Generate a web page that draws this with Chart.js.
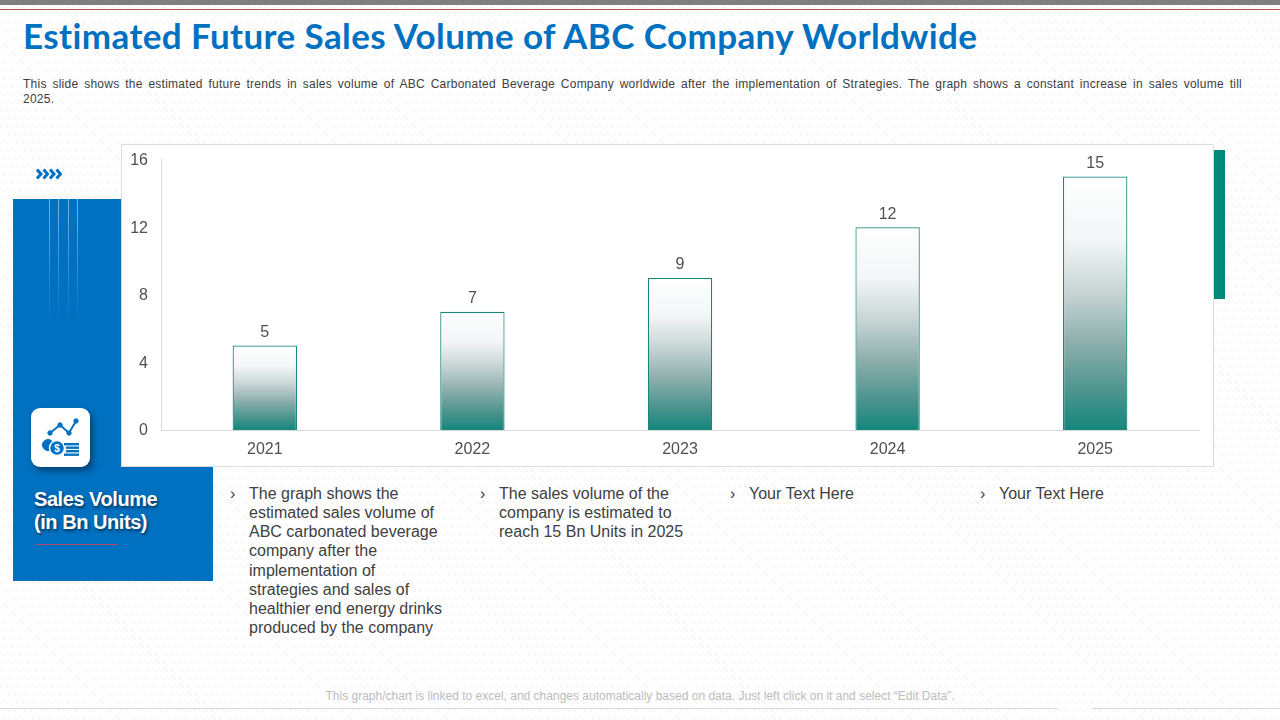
<!DOCTYPE html>
<html>
<head>
<meta charset="utf-8">
<script src="https://cdn.jsdelivr.net/npm/chart.js@4"></script>
<style>
    html, body { margin: 0; padding: 0; }
    body {
        width: 1280px; height: 720px; position: relative; overflow: hidden;
        font-family: "Liberation Sans", Arial, sans-serif; color: #404040;
        background-color: #fff;
        background-image:
            repeating-linear-gradient(180deg, #fff 0 4px, rgba(255,255,255,0) 4px 8px),
            repeating-linear-gradient(45deg, #f4f4f4 0 1px, #fff 1px 4px);
    }
    .abs { position: absolute; }
    #title { left: 23px; top: 14px; font: bold 35px Lato, sans-serif; letter-spacing: 0.4px; font-variant-ligatures: none; color: #0070c0; white-space: nowrap; }
    #desc { left: 23px; top: 77px; width: 1219px; font-size: 12px; line-height: 15px; letter-spacing: 0.25px; }
    #desc div:first-child { text-align: justify; text-align-last: justify; }
    #panel { left: 13px; top: 199px; width: 200px; height: 382px; background: #0070c0; }
    .streak { top: 199px; width: 1px; height: 130px; background: linear-gradient(#6db6ea, #0070c0); }
    #iconBox { left: 31px; top: 408px; width: 59px; height: 59px; background: #fff; border-radius: 9px; box-shadow: 3px 4px 6px rgba(0,0,0,.4); z-index: 3; }
    #panelText { left: 34px; top: 488px; font-size: 20px; line-height: 23px; font-weight: bold; color: #fff; letter-spacing: -0.45px; text-shadow: 1px 2px 3px rgba(0,0,0,.55); white-space: nowrap; }
    #panelRule { left: 36px; top: 544px; width: 82px; height: 1px; background: #b0486a; }
    #card { left: 121px; top: 144px; width: 1091px; height: 321px; background: #fff; border: 1px solid #dcdcdc; z-index: 2; }
    #chartWrap { position: absolute; left: 0; top: -8px; width: 1091px; height: 329px; }
    #accent { left: 1214px; top: 150px; width: 11px; height: 149px; background: #00897b; }
    .note { top: 484px; font-size: 16px; line-height: 19.15px; white-space: nowrap; }
    .mark { top: 484px; font-size: 16px; line-height: 19px; }
    #foot { left: 0; width: 1280px; top: 689px; text-align: center; font-size: 12px; color: #bdbdbd; }
    .footRule { top: 708px; height: 1px; background: #d9d9d9; }
</style>
</head>
<body>
<div class="abs" style="left:0;top:0;width:1280px;height:5px;background:#7f7f7f"></div>
<div class="abs" style="left:0;top:9px;width:1280px;height:1px;background:#c0504d"></div>
<div class="abs" id="title">Estimated Future Sales Volume of ABC Company Worldwide</div>
<div class="abs" id="desc">
    <div>This slide shows the estimated future trends in sales volume of ABC Carbonated Beverage Company worldwide after the implementation of Strategies. The graph shows a constant increase in sales volume till</div>
    <div>2025.</div>
</div>

<svg class="abs" style="left:36px;top:168px" width="26" height="12" viewBox="0 0 26 12">
    <g fill="none" stroke="#0070c0" stroke-width="3">
        <path d="M1 1.5 L5 6 L1 10.5"/><path d="M7.5 1.5 L11.5 6 L7.5 10.5"/>
        <path d="M14 1.5 L18 6 L14 10.5"/><path d="M20.5 1.5 L24.5 6 L20.5 10.5"/>
    </g>
</svg>

<div class="abs" id="panel"></div>
<div class="abs streak" style="left:49px"></div>
<div class="abs streak" style="left:58px"></div>
<div class="abs streak" style="left:68px"></div>
<div class="abs streak" style="left:77px"></div>
<div class="abs" id="panelText">Sales Volume<br>(in Bn Units)</div>
<div class="abs" id="panelRule"></div>

<div class="abs" id="accent"></div>
<div class="abs" id="card"><div id="chartWrap"><canvas id="salesChart"></canvas></div></div>

<div class="abs" id="iconBox">
    <svg width="59" height="59" viewBox="0 0 59 59">
        <g fill="#0070c0" stroke="#0070c0">
            <path d="M19 25 L29 17 L38 25 L45 13" fill="none" stroke-width="2"/>
            <circle cx="19" cy="25" r="2.2"/><circle cx="29" cy="17" r="2.2"/>
            <circle cx="38" cy="25" r="2.2"/><circle cx="45" cy="13" r="2.2"/>
            <circle cx="17" cy="37" r="5.5"/>
        </g>
        <circle cx="26" cy="40" r="7.5" fill="#0070c0" stroke="#fff" stroke-width="1.5"/>
        <text x="26" y="44" font-size="10" font-weight="bold" fill="#fff" text-anchor="middle">$</text>
        <g fill="#0070c0">
            <rect x="33" y="35" width="15" height="2.4"/><rect x="35" y="38.5" width="13" height="2.4"/>
            <rect x="35" y="42" width="13" height="2.4"/><rect x="33" y="45.5" width="15" height="2.4"/>
        </g>
    </svg>
</div>

<div class="abs mark" style="left:230px">›</div>
<div class="abs note" style="left:249px">The graph shows the<br>estimated sales volume of<br>ABC carbonated beverage<br>company after the<br>implementation of<br>strategies and sales of<br>healthier end energy drinks<br>produced by the company</div>
<div class="abs mark" style="left:480px">›</div>
<div class="abs note" style="left:499px">The sales volume of the<br>company is estimated to<br>reach 15 Bn Units in 2025</div>
<div class="abs mark" style="left:730px">›</div>
<div class="abs note" style="left:749px">Your Text Here</div>
<div class="abs mark" style="left:980px">›</div>
<div class="abs note" style="left:999px">Your Text Here</div>

<div class="abs" id="foot">This graph/chart is linked to excel, and changes automatically based on data. Just left click on it and select “Edit Data”.</div>
<div class="abs footRule" style="left:0;width:1058px"></div>
<div class="abs footRule" style="left:1092px;width:188px"></div>

<script>
const years = ['2021', '2022', '2023', '2024', '2025'];
const salesVolume = [5, 7, 9, 12, 15];
const yMax = 16;
const yStep = 4;

const TEAL = '#14877c';
const TEXT = '#505050';

// gradient runs per bar, white at the top down to teal at the axis
function barGradient(context) {
    const chart = context.chart;
    if (!chart.chartArea || context.raw === undefined) return TEAL;
    const top = chart.scales.y.getPixelForValue(context.raw);
    const bottom = chart.scales.y.getPixelForValue(0);
    const g = chart.ctx.createLinearGradient(0, top, 0, bottom);
    g.addColorStop(0, '#ffffff');
    g.addColorStop(0.25, '#f3f5f6');
    g.addColorStop(0.45, '#c9d6d5');
    g.addColorStop(0.65, '#8fb0ad');
    g.addColorStop(0.85, '#4b948d');
    g.addColorStop(1, TEAL);
    return g;
}

// value labels above the bars
const valueLabels = {
    id: 'valueLabels',
    afterDatasetsDraw(chart) {
        const ctx = chart.ctx;
        const meta = chart.getDatasetMeta(0);
        ctx.save();
        ctx.font = '16px "Liberation Sans"';
        ctx.fillStyle = TEXT;
        ctx.textAlign = 'center';
        ctx.textBaseline = 'middle';
        meta.data.forEach((bar, i) => {
            ctx.fillText(salesVolume[i], bar.x, bar.y - 13);
        });
        ctx.restore();
    }
};

new Chart(document.getElementById('salesChart').getContext('2d'), {
    type: 'bar',
    data: {
        labels: years,
        datasets: [{
            label: 'Sales Volume',
            data: salesVolume,
            backgroundColor: barGradient,
            borderColor: TEAL,
            borderWidth: 1.2,
            barPercentage: 0.31,
            categoryPercentage: 1
        }]
    },
    options: {
        responsive: true,
        maintainAspectRatio: false,
        animation: false,
        // plot top is set by #chartWrap, the padding here did not move it
        layout: { autoPadding: false, padding: { top: 7.5, right: 14, left: 0, bottom: 0 } },
        plugins: { legend: { display: false }, tooltip: { enabled: false } },
        scales: {
            x: {
                grid: { display: false, drawTicks: false },
                border: { color: '#d9d9d9' },
                ticks: { color: TEXT, font: { family: 'Liberation Sans', size: 16 }, padding: 10, maxRotation: 0 },
                afterFit(scale) { scale.height = 36; }
            },
            y: {
                min: 0,
                max: yMax,
                grid: { display: false, drawTicks: false },
                border: { color: '#d9d9d9' },
                ticks: { stepSize: yStep, color: TEXT, font: { family: 'Liberation Sans', size: 16 }, padding: 13, labelOffset: 1 },
                afterFit(scale) { scale.width = 39; }
            }
        }
    },
    plugins: [valueLabels]
});
</script>
</body>
</html>
